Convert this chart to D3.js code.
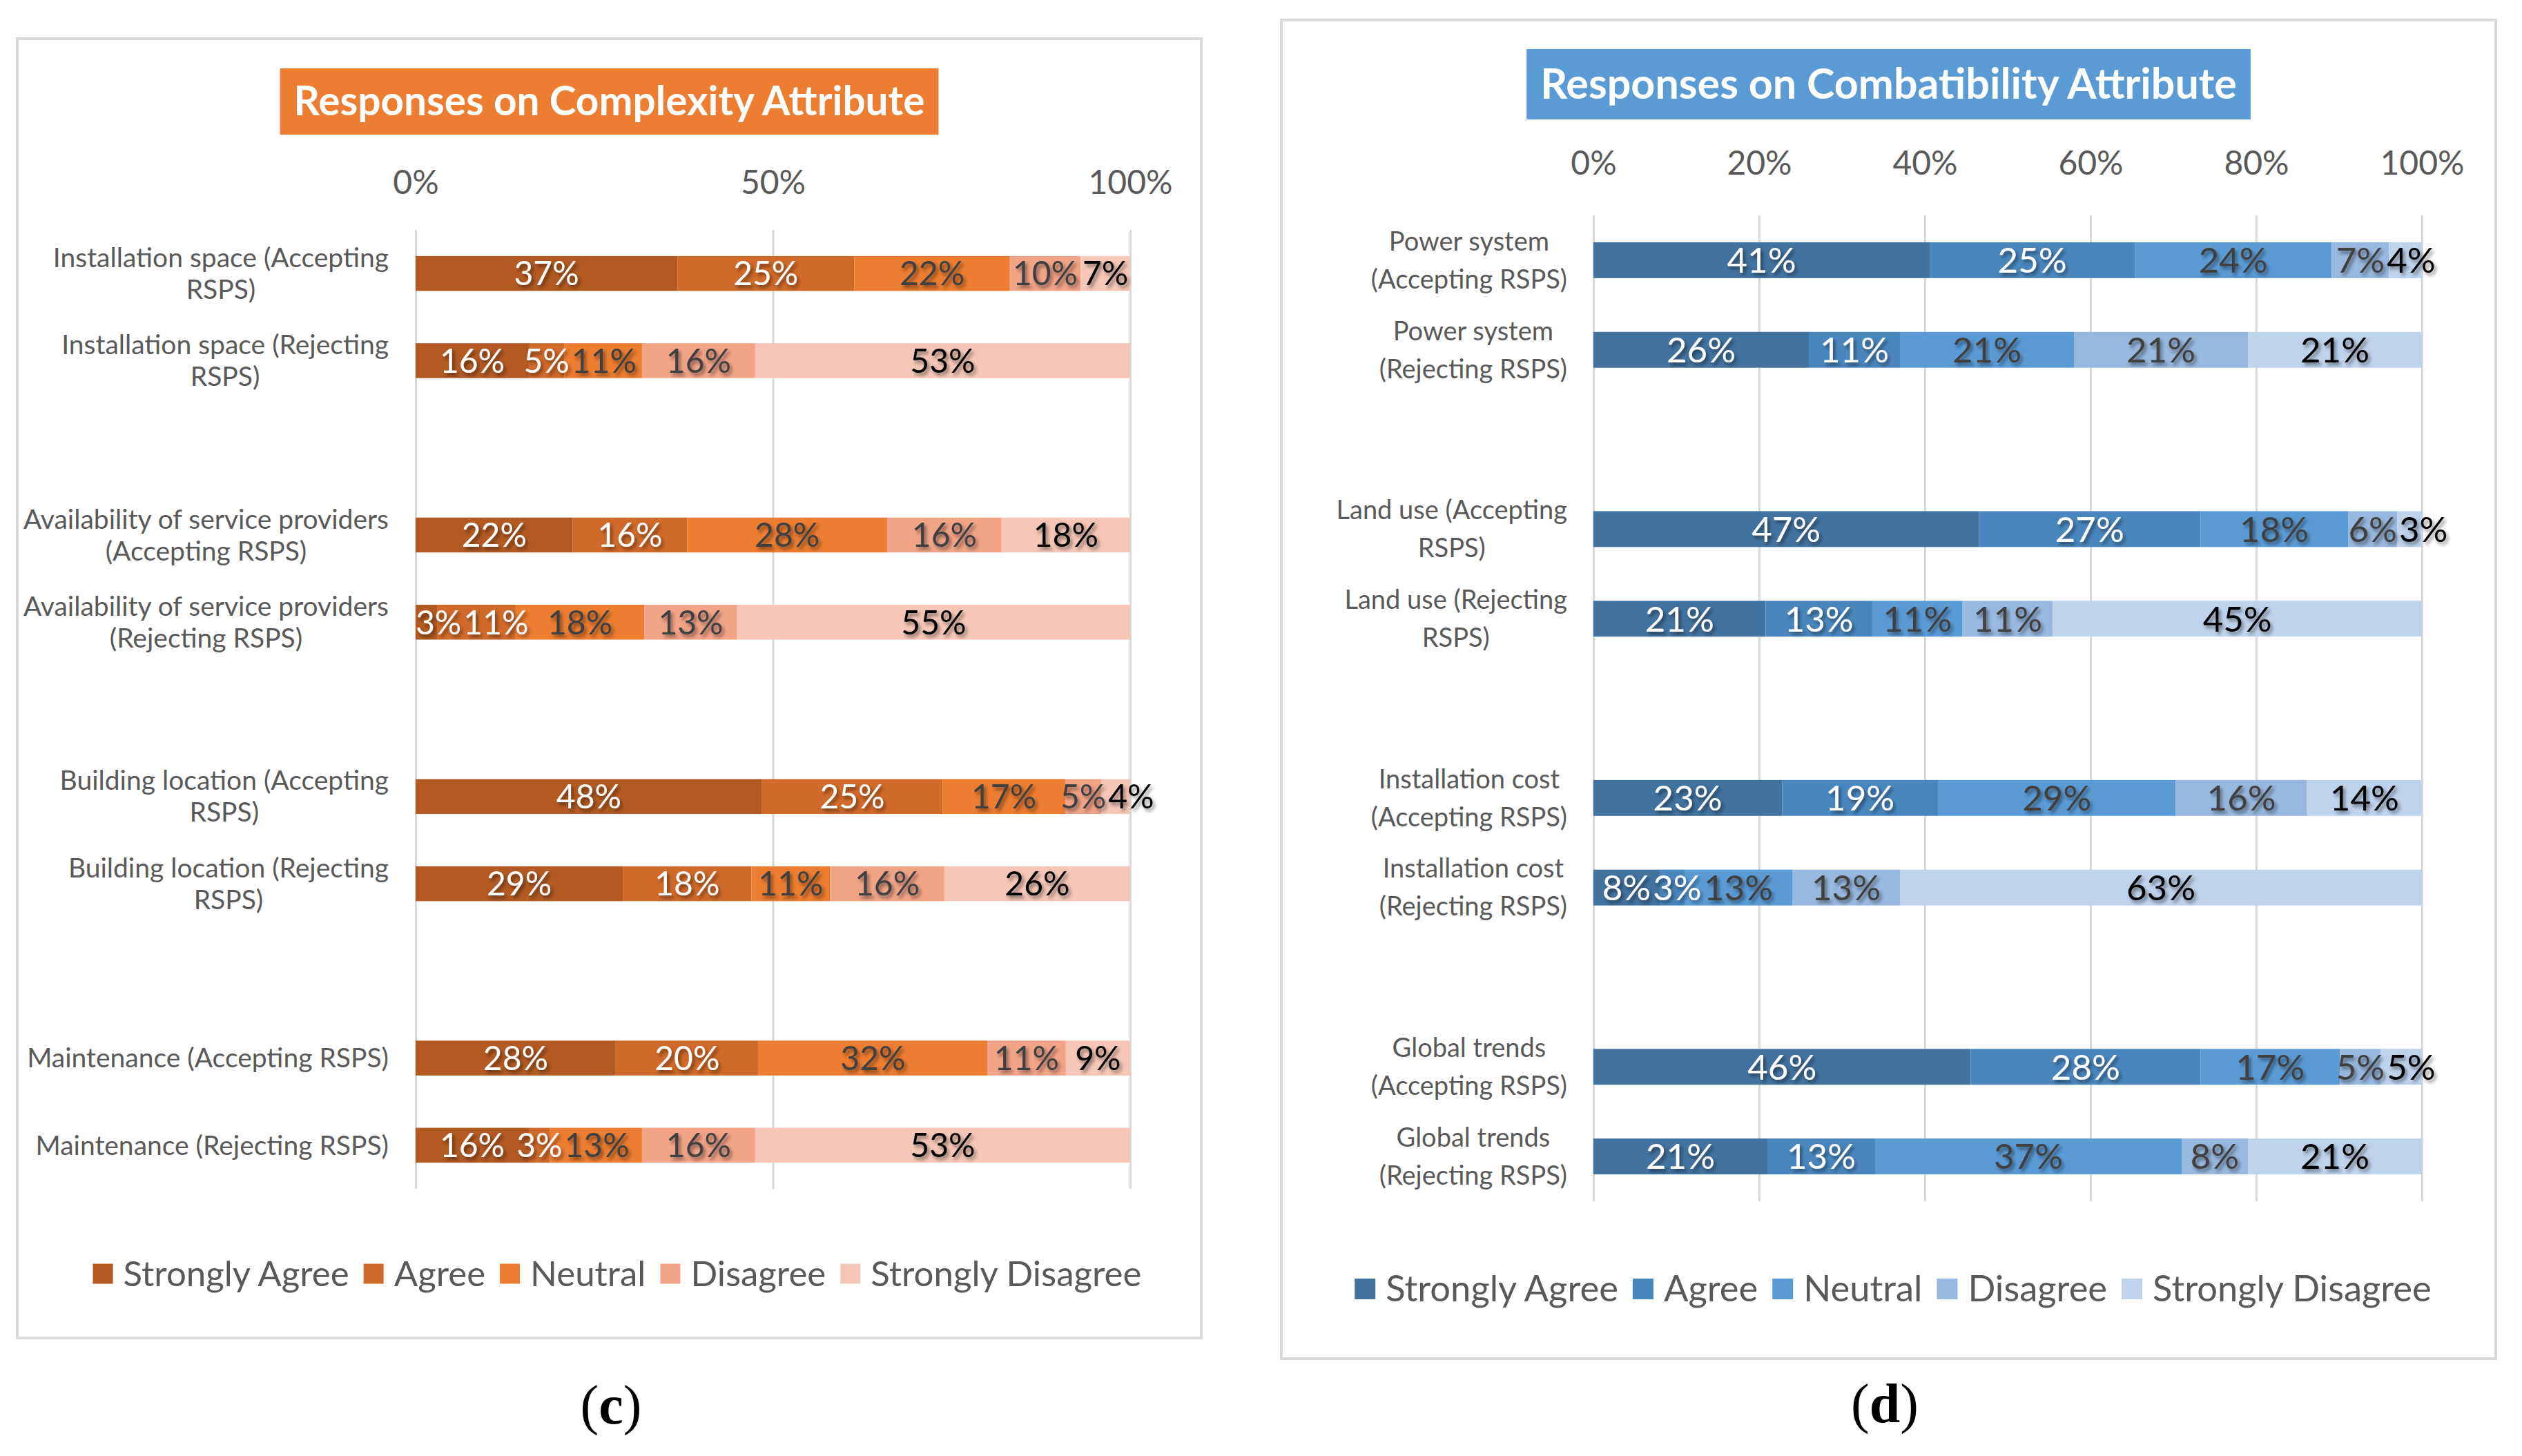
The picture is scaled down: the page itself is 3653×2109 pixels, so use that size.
<!DOCTYPE html>
<html>
<head>
<meta charset="utf-8">
<script src="https://cdn.jsdelivr.net/npm/d3@7/dist/d3.min.js"></script>
<style>
  body { margin: 0; background: #fff; }
</style>
</head>
<body>
<script>
const W = 3653, H = 2109;
const FONT = "Lato, 'Open Sans', sans-serif";

const responseLevels = ["Strongly Agree", "Agree", "Neutral", "Disagree", "Strongly Disagree"];

// (c) complexity attribute
const complexityLabels = [
  ["Installation space (Accepting", "RSPS)"],
  ["Installation space (Rejecting", "RSPS)"],
  ["Availability of service providers", "(Accepting RSPS)"],
  ["Availability of service providers", "(Rejecting RSPS)"],
  ["Building location (Accepting", "RSPS)"],
  ["Building location (Rejecting", "RSPS)"],
  ["Maintenance (Accepting RSPS)"],
  ["Maintenance (Rejecting RSPS)"]
];
const complexityStronglyAgree    = [37, 16, 22,  3, 48, 29, 28, 16];
const complexityAgree            = [25,  5, 16, 11, 25, 18, 20,  3];
const complexityNeutral          = [22, 11, 28, 18, 17, 11, 32, 13];
const complexityDisagree         = [10, 16, 16, 13,  5, 16, 11, 16];
const complexityStronglyDisagree = [ 7, 53, 18, 55,  4, 26,  9, 53];
const complexityTicks = [0, 0.5, 1];

// (d) compatibility attribute
const compatLabels = [
  ["Power system", "(Accepting RSPS)"],
  ["Power system", "(Rejecting RSPS)"],
  ["Land use (Accepting", "RSPS)"],
  ["Land use (Rejecting", "RSPS)"],
  ["Installation cost", "(Accepting RSPS)"],
  ["Installation cost", "(Rejecting RSPS)"],
  ["Global trends", "(Accepting RSPS)"],
  ["Global trends", "(Rejecting RSPS)"]
];
const compatStronglyAgree    = [41, 26, 47, 21, 23,  8, 46, 21];
const compatAgree            = [25, 11, 27, 13, 19,  3, 28, 13];
const compatNeutral          = [24, 21, 18, 11, 29, 13, 17, 37];
const compatDisagree         = [ 7, 21,  6, 11, 16, 13,  5,  8];
const compatStronglyDisagree = [ 4, 21,  3, 45, 14, 63,  5, 21];
const compatTicks = [0, 0.2, 0.4, 0.6, 0.8, 1];

const svg = d3.select("body").append("svg")
    .attr("width", W)
    .attr("height", H)
    .attr("font-family", FONT);

svg.append("defs").append("filter")
    .attr("id", "shadow")
    .attr("x", "-20%").attr("y", "-30%")
    .attr("width", "150%").attr("height", "170%")
  .append("feDropShadow")
    .attr("dx", 3).attr("dy", 4)
    .attr("stdDeviation", 2.5)
    .attr("flood-color", "#000")
    .attr("flood-opacity", 0.45);

function drawPanel(p) {
  const g = svg.append("g");

  g.append("rect")
      .attr("x", p.frame[0]).attr("y", p.frame[1])
      .attr("width", p.frame[2] - p.frame[0])
      .attr("height", p.frame[3] - p.frame[1])
      .attr("fill", "#fff")
      .attr("stroke", "#D9D9D9")
      .attr("stroke-width", 4);

  // title box
  const cx = (p.frame[0] + p.frame[2]) / 2;
  const titleText = g.append("text")
      .attr("x", cx)
      .attr("y", (p.titleY[0] + p.titleY[1]) / 2)
      .attr("dy", "0.35em")
      .attr("text-anchor", "middle")
      .attr("font-weight", "bold")
      .attr("font-size", p.titleSize)
      .attr("fill", "#fff")
      .text(p.title);
  const tw = titleText.node().getComputedTextLength();
  g.insert("rect", "text")
      .attr("x", cx - tw / 2 - 20)
      .attr("y", p.titleY[0])
      .attr("width", tw + 40)
      .attr("height", p.titleY[1] - p.titleY[0])
      .attr("fill", p.colors[2]);

  const x = d3.scaleLinear().domain([0, 1]).range([p.x0, p.x1]);

  const n = p.labels.length;
  const slotOf = i => i + Math.floor(i / 2);   // empty row between each pair
  const y = d3.scaleBand()
      .domain(d3.range(slotOf(n - 1) + 1))
      .range([p.top, p.bottom])
      .paddingInner(0.6)
      .paddingOuter(0.3);

  const rows = p.labels.map((l, i) => {
    const r = {slot: slotOf(i)};
    responseLevels.forEach((k, j) => r[k] = p.series[j][i]);
    return r;
  });
  const stacked = d3.stack().keys(responseLevels).offset(d3.stackOffsetExpand)(rows);

  // axis + gridlines
  const axis = g.append("g")
      .attr("transform", `translate(0,${p.top})`)
      .call(d3.axisTop(x)
          .tickValues(p.ticks)
          .tickFormat(d3.format(".0%"))
          .tickSizeInner(-(p.bottom - p.top))
          .tickSizeOuter(0)
          .tickPadding(p.tickPad));
  axis.attr("font-family", FONT);
  axis.select(".domain").remove();
  axis.selectAll("line").attr("stroke", "#D9D9D9").attr("stroke-width", 3);
  axis.selectAll("text").attr("font-size", p.tickSize).attr("fill", "#595959");

  // bars
  const layer = g.selectAll(".layer")
    .data(stacked)
    .join("g")
      .attr("fill", (d, i) => p.colors[i]);
  layer.selectAll("rect")
    .data(d => d)
    .join("rect")
      .attr("x", d => x(d[0]))
      .attr("width", d => x(d[1]) - x(d[0]))
      .attr("y", d => y(d.data.slot))
      .attr("height", y.bandwidth());

  // value labels, centred on segments, nudged right so they do not collide
  const labelFill = ["#fff", "#fff", "#404040", "#404040", "#000"];
  const labelSel = stacked.map((s, j) =>
    g.append("g").selectAll("text")
      .data(s)
      .join("text")
        .attr("x", d => x((d[0] + d[1]) / 2))
        .attr("y", d => y(d.data.slot) + y.bandwidth() / 2)
        .attr("dy", "0.36em")
        .attr("text-anchor", "middle")
        .attr("font-size", p.valueSize)
        .attr("fill", labelFill[j])
        .attr("filter", "url(#shadow)")
        .text((d, i) => p.series[j][i] + "%")
        .nodes());
  rows.forEach((r, i) => {
    let prevRight = p.x0;
    labelSel.forEach((nodes, j) => {
      const t = nodes[i];
      const w = t.getComputedTextLength();
      const mid = x((stacked[j][i][0] + stacked[j][i][1]) / 2);
      const left = Math.max(mid - w / 2, prevRight + (j ? 3 : 0));
      d3.select(t).attr("x", left + w / 2);
      prevRight = left + w;
    });
  });

  // category labels, lines centered on each other, block right-aligned
  p.labels.forEach((lines, i) => {
    const yc = y(slotOf(i)) + y.bandwidth() / 2;
    const lg = g.append("g");
    const ts = lines.map((t, k) => lg.append("text")
        .attr("y", yc + (k - (lines.length - 1) / 2) * p.lineH)
        .attr("dy", "0.35em")
        .attr("text-anchor", "middle")
        .attr("font-size", p.catSize)
        .attr("fill", "#595959")
        .text(t));
    const mw = d3.max(ts, t => t.node().getComputedTextLength());
    ts.forEach(t => t.attr("x", p.labelRight - mw / 2));
  });

  // legend
  const lg = g.append("g");
  const m = p.marker;
  let cursor = 0;
  responseLevels.forEach((k, j) => {
    lg.append("rect")
        .attr("x", cursor).attr("y", p.legendY - m / 2)
        .attr("width", m).attr("height", m)
        .attr("fill", p.colors[j]);
    const t = lg.append("text")
        .attr("x", cursor + m + 15)
        .attr("y", p.legendY)
        .attr("dy", "0.35em")
        .attr("font-size", p.legendSize)
        .attr("fill", "#595959")
        .text(k);
    cursor += m + 15 + t.node().getComputedTextLength() + 21;
  });
  cursor -= 21;
  lg.attr("transform", `translate(${p.legendCenter - cursor / 2},0)`);

  // panel caption
  const cap = svg.append("text")
      .attr("x", p.caption[0])
      .attr("y", p.caption[1])
      .attr("dy", "0.35em")
      .attr("text-anchor", "middle")
      .attr("font-family", "'Liberation Serif', 'DejaVu Serif', serif")
      .attr("font-size", 80)
      .attr("fill", "#000");
  cap.append("tspan").text("(");
  cap.append("tspan").attr("font-weight", "bold").text(p.letter);
  cap.append("tspan").text(")");
}

drawPanel({
  frame: [25, 56, 1740, 1938],
  title: "Responses on Complexity Attribute",
  titleY: [99, 195],
  titleSize: 58.5,
  colors: ["#B35A22", "#D06A2A", "#ED7D31", "#F2A487", "#F6C7B6"],
  labels: complexityLabels,
  series: [complexityStronglyAgree, complexityAgree, complexityNeutral,
           complexityDisagree, complexityStronglyDisagree],
  ticks: complexityTicks,
  x0: 602, x1: 1637, top: 333, bottom: 1722,
  tickPad: 52, tickSize: 48, valueSize: 48,
  labelRight: 563, catSize: 39, lineH: 46,
  marker: 29, legendY: 1845, legendCenter: 894, legendSize: 51,
  caption: [885, 2034], letter: "c"
});

drawPanel({
  frame: [1856, 29, 3615, 1968],
  title: "Responses on Combatibility Attribute",
  titleY: [71, 173],
  titleSize: 61,
  colors: ["#42729E", "#4A86BE", "#5B9BD5", "#97B8DF", "#BED3EC"],
  labels: compatLabels,
  series: [compatStronglyAgree, compatAgree, compatNeutral,
           compatDisagree, compatStronglyDisagree],
  ticks: compatTicks,
  x0: 2308, x1: 3508, top: 312, bottom: 1740,
  tickPad: 59, tickSize: 48, valueSize: 51,
  labelRight: 2270, catSize: 38, lineH: 55,
  marker: 30, legendY: 1867, legendCenter: 2742, legendSize: 52.5,
  caption: [2730, 2032], letter: "d"
});
</script>
</body>
</html>
